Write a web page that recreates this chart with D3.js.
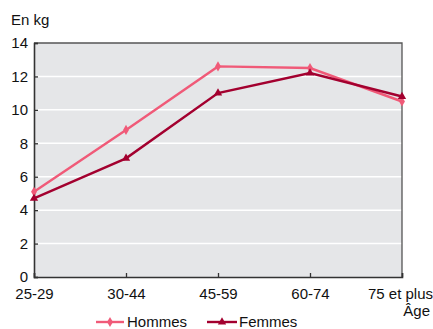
<!DOCTYPE html>
<html>
<head>
<meta charset="utf-8">
<script src="https://cdn.jsdelivr.net/npm/d3@7"></script>
<style>
  html, body { margin: 0; background: #fff; overflow: hidden; }
  svg { display: block; }
  text { font-family: "Liberation Sans", Arial, sans-serif; fill: #111; }
</style>
</head>
<body>
<svg></svg>
<script>
const ages = ["25-29", "30-44", "45-59", "60-74", "75 et plus"];
const hommes = [5.1, 8.8, 12.6, 12.5, 10.5];
const femmes = [4.7, 7.1, 11.0, 12.2, 10.8];
const yTicks = [0, 2, 4, 6, 8, 10, 12, 14];

const width = 433, height = 329;
const margin = {top: 43, right: 31, bottom: 52, left: 34};
const innerWidth = width - margin.left - margin.right;
const innerHeight = height - margin.top - margin.bottom;

const svg = d3.select("svg").attr("width", width).attr("height", height);
const g = svg.append("g").attr("transform", `translate(${margin.left},${margin.top})`);

const x = d3.scalePoint().domain(ages).range([0, innerWidth]);
const y = d3.scaleLinear().domain([0, 14]).range([innerHeight, 0]);

// background
g.append("rect").attr("width", innerWidth).attr("height", innerHeight).attr("fill", "#e5e6e8");

// grid
g.selectAll(".grid").data(yTicks.filter(d => d > 0 && d < 14))
  .enter().append("line")
  .attr("x1", 0).attr("x2", innerWidth)
  .attr("y1", d => y(d)).attr("y2", d => y(d))
  .attr("stroke", "#fff").attr("stroke-width", 1.5);

// frame top / right
g.append("path")
  .attr("d", `M0,0H${innerWidth}V${innerHeight}`)
  .attr("fill", "none").attr("stroke", "#555").attr("stroke-width", 1.3);

// axes
const yAxis = d3.axisLeft(y).tickValues(yTicks).tickSize(-4).tickPadding(6);
const yAxisG = g.append("g").call(yAxis);
yAxisG.select(".domain").attr("stroke", "#333").attr("stroke-width", 1.6);
yAxisG.selectAll(".tick line").attr("stroke", "#333").attr("stroke-width", 1.3);
yAxisG.selectAll("text").attr("font-size", 15).attr("font-family", "Liberation Sans, Arial, sans-serif").attr("fill", "#111");

const xAxis = d3.axisBottom(x).tickSize(-4).tickPadding(11);
const xAxisG = g.append("g").attr("transform", `translate(0,${innerHeight})`).call(xAxis);
xAxisG.select(".domain").attr("stroke", "#333").attr("stroke-width", 1.6);
xAxisG.selectAll(".tick line").attr("stroke", "#333").attr("stroke-width", 1.3);
xAxisG.selectAll("text").attr("font-size", 15).attr("font-family", "Liberation Sans, Arial, sans-serif").attr("fill", "#111");
xAxisG.selectAll(".tick").filter(d => d === "75 et plus").select("text").attr("dx", -2);

// series
const series = [
  {name: "Hommes", values: hommes, color: "#f05a78", symbol: d3.symbolDiamond},
  {name: "Femmes", values: femmes, color: "#a3002f", symbol: d3.symbolTriangle}
];

const line = d3.line().x((d, i) => x(ages[i])).y(d => y(d));

series.forEach(s => {
  g.append("path").datum(s.values)
    .attr("fill", "none").attr("stroke", s.color).attr("stroke-width", 2.4)
    .attr("d", line);
  g.selectAll(null).data(s.values).enter().append("path")
    .attr("transform", (d, i) => `translate(${x(ages[i])},${y(d)})`)
    .attr("d", d3.symbol().type(s.symbol).size(30))
    .attr("fill", s.color);
});

// labels
svg.append("text").attr("x", 11).attr("y", 25).attr("font-size", 15).text("En kg");
svg.append("text").attr("x", 430).attr("y", 316).attr("font-size", 15).attr("text-anchor", "end").text("Âge");

// legend
const legend = svg.append("g");
const legendItems = [
  {s: series[0], x0: 96, x1: 124, tx: 127},
  {s: series[1], x0: 207, x1: 237, tx: 239}
];
legendItems.forEach(it => {
  legend.append("line").attr("x1", it.x0).attr("x2", it.x1).attr("y1", 322).attr("y2", 322)
    .attr("stroke", it.s.color).attr("stroke-width", 2.4);
  legend.append("path").attr("transform", `translate(${(it.x0 + it.x1) / 2},322)`)
    .attr("d", d3.symbol().type(it.s.symbol).size(30)).attr("fill", it.s.color);
  legend.append("text").attr("x", it.tx).attr("y", 327).attr("font-size", 15).text(it.s.name);
});
</script>
</body>
</html>
